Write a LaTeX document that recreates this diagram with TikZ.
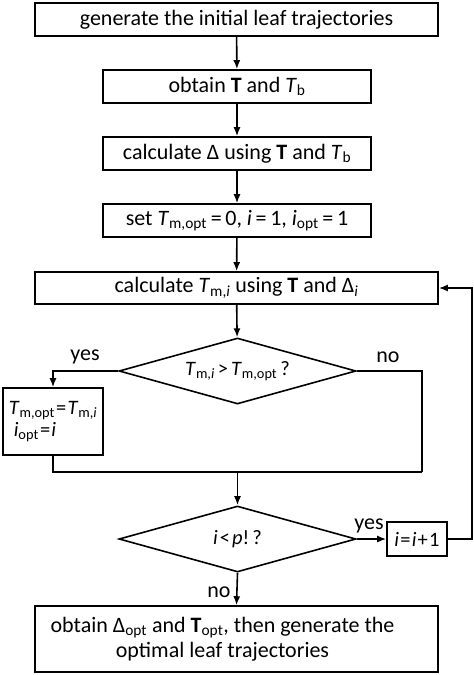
\documentclass[tikz,border=0pt]{standalone}
\usepackage{fontspec}
\setmainfont{Carlito}
\usetikzlibrary{arrows.meta,shapes.geometric}
\newcommand{\Ti}{\textit{T}}
\newcommand{\sub}[1]{\textsubscript{#1}}
\newcommand{\eqs}{\kern1.2pt=\kern1.2pt}
\begin{document}
\begin{tikzpicture}[x=1pt,y=-1pt,
  every node/.style={font=\fontsize{22}{25}\selectfont},
  small/.style={font=\fontsize{20.5}{24}\selectfont},
  box/.style={draw,line width=1.6pt,inner sep=0pt,align=center},
  dia/.style={draw,diamond,aspect=3.6,line width=1.6pt,inner sep=0pt},
  conn/.style={line width=1.6pt},
  arr/.style={conn,-{Latex[length=9pt,width=7pt]}},
  lbl/.style={inner sep=0pt}]
\useasboundingbox (0,0) rectangle (474,675);
\node[box,minimum width=403pt,minimum height=33pt] (b1) at (236.5,19.5) {generate the initial leaf trajectories};
\node[box,minimum width=268pt,minimum height=33pt] (b2) at (237,86.5) {obtain \textbf{T} and \Ti\sub{b}};
\node[box,minimum width=268pt,minimum height=33pt] (b3) at (237,153.5) {calculate Δ using \textbf{T} and \Ti\sub{b}};
\node[box,minimum width=268pt,minimum height=33pt] (b4) at (237,220.5) {set \Ti\sub{m,opt}\,=\,0, \textit{i}\,=\,1, \textit{i}\sub{opt}\,=\,1};
\node[box,minimum width=403pt,minimum height=32pt] (b5) at (236.5,288) {calculate \Ti\sub{m,\textit{i}} using \textbf{T} and Δ\sub{\textit{i}}};
\node[dia,small,minimum width=237pt,minimum height=66pt] (d1) at (237.5,371) {\Ti\sub{m,\textit{i}}\kern3pt>\kern3pt\Ti\sub{m,opt}\kern3pt?};
\node[box,small,minimum width=100pt,minimum height=67pt,align=left] (lb) at (53,421.5) {\Ti\sub{m,opt}\eqs\Ti\sub{m,\textit{i}}\\[-2pt]\hspace{5pt}\textit{i}\sub{opt}\eqs\textit{i}};
\node[dia,small,minimum width=237pt,minimum height=66pt] (d2) at (237.5,539) {\textit{i}\kern2pt<\kern2pt\textit{p}!\kern3pt?};
\node[box,small,minimum width=60pt,minimum height=34pt] (inc) at (417,539) {\textit{i}\eqs\textit{i}\kern1.2pt+\kern1.2pt1};
\node[box,minimum width=403pt,minimum height=66pt] (fin) at (236.5,639) {obtain Δ\sub{opt} and \textbf{T}\sub{opt}, then generate the\hspace*{28pt}\\optimal leaf trajectories\hspace*{28pt}};
\coordinate (jr) at (422,472);
\coordinate (jm) at (237.5,472);
\coordinate (rt) at (472,288);
\draw[arr] (b1) -- (b2);
\draw[arr] (b2) -- (b3);
\draw[arr] (b3) -- (b4);
\draw[arr] (b4) -- (b5);
\draw[arr] (b5) -- (d1);
\draw[arr] (d1.west) -| (lb.north);
\draw[conn] (d1.east) -| (jr);
\draw[conn] (lb.south) |- (jr);
\draw[arr] (jm) -- (d2.north);
\draw[arr] (d2.east) -- (inc.west);
\draw[arr] (inc.east) -| (rt) -- (b5.east);
\draw[arr] (d2.south) -- (fin.north);
\node[lbl] (yes1) at (85,357) {yes};
\node[lbl] (no1) at (388,357) {no};
\node[lbl] (yes2) at (369,526) {yes};
\node[lbl] (no2) at (219,592) {no};
\end{tikzpicture}
\end{document}
